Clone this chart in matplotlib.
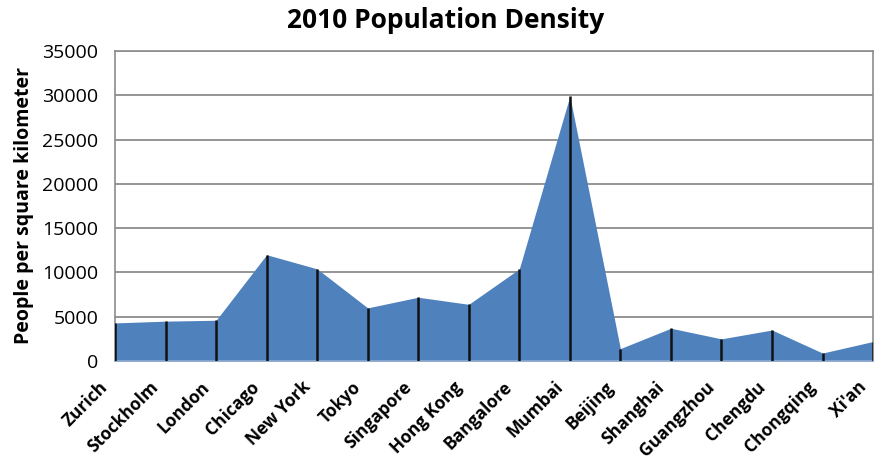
import matplotlib
matplotlib.use('Agg')
import matplotlib.pyplot as plt
from matplotlib.transforms import ScaledTranslation

# city densities, people per square kilometer (2010)
cities = ['Zurich', 'Stockholm', 'London', 'Chicago', 'New York', 'Tokyo',
          'Singapore', 'Hong Kong', 'Bangalore', 'Mumbai', 'Beijing',
          'Shanghai', 'Guangzhou', 'Chengdu', 'Chongqing', "Xi'an"]
density = [4300, 4500, 4600, 12000, 10400, 6000,
           7200, 6400, 10400, 29900, 1400,
           3700, 2500, 3500, 900, 2200]
yticks = [0, 5000, 10000, 15000, 20000, 25000, 30000, 35000]

plt.rcParams['font.family'] = ['Open Sans', 'DejaVu Sans']

fig = plt.figure(figsize=(8.8, 4.59), dpi=100)
ax = fig.add_axes([0.1307, 0.2135, 0.8614, 0.6754])

x = list(range(len(cities)))
ax.fill_between(x, density, 0, color='#4F81BD', linewidth=0, zorder=2)
ax.vlines(x, 0, density, color='#111111', linewidth=1.8, zorder=3)

ax.set_xlim(0, len(cities) - 1)
ax.set_ylim(0, 35000)
ax.set_yticks(yticks)
ax.set_yticklabels([str(v) for v in yticks], fontsize=14)
ax.yaxis.grid(True, color='#8c8c8c', linewidth=1.3, zorder=1)
ax.set_axisbelow(True)
ax.tick_params(axis='y', length=0, pad=12)

ax.set_xticks(x)
ax.set_xticklabels(cities, rotation=45, ha='right', va='top', rotation_mode='anchor',
                   fontsize=12.5, fontweight='bold')
ax.tick_params(axis='x', length=0, pad=0)
# push each city name down-left of its tick
shift = ScaledTranslation(-0.16, -0.17, fig.dpi_scale_trans)
for lbl in ax.get_xticklabels():
    lbl.set_transform(lbl.get_transform() + shift)

for side in ['left', 'right', 'top']:
    ax.spines[side].set_color('#8c8c8c')
    ax.spines[side].set_linewidth(1.2)
ax.spines['bottom'].set_color('#8eaad0')
ax.spines['bottom'].set_linewidth(1.2)

ax.set_ylabel('People per square kilometer', fontsize=14, fontweight='bold', labelpad=6)
fig.text(0.506, 0.955, '2010 Population Density', ha='center', va='center',
         fontsize=19, fontweight='bold')

fig.savefig('out.png', dpi=100)
